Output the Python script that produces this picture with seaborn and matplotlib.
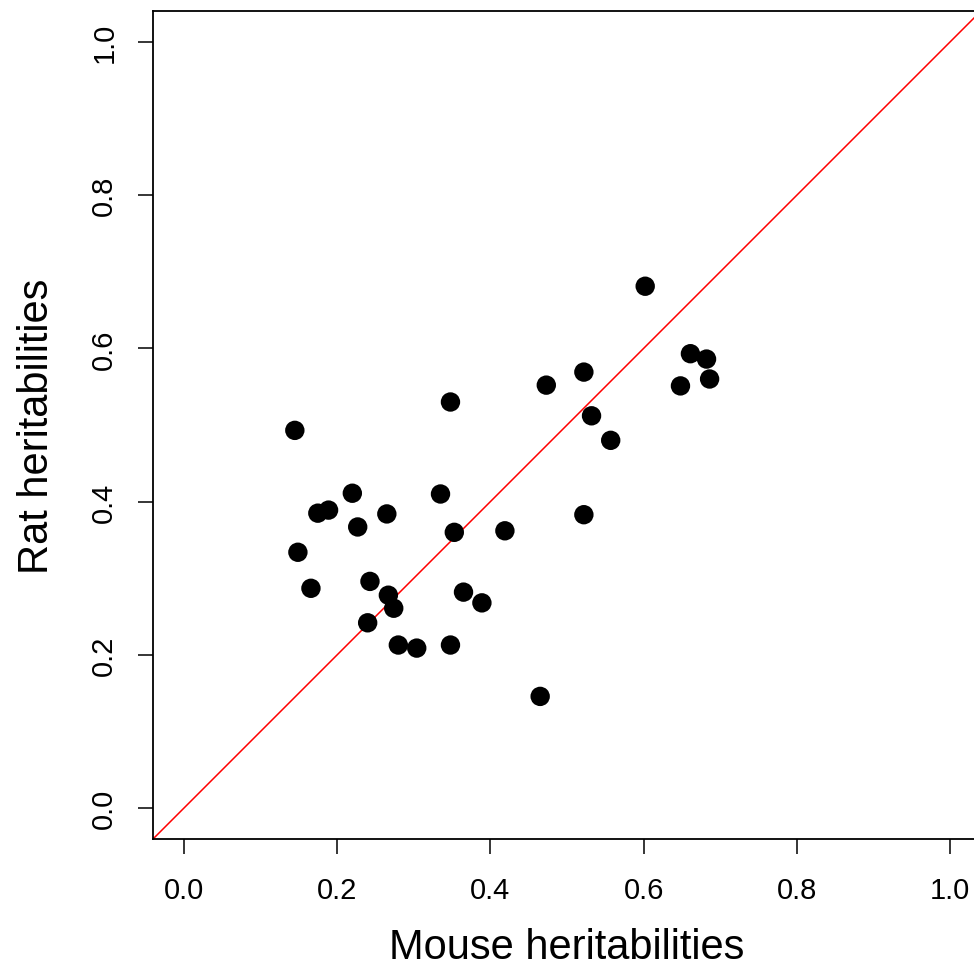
import matplotlib
matplotlib.use("Agg")
import matplotlib.pyplot as plt
import seaborn as sns
import numpy as np
import pandas as pd

mouse_h2 = [0.145, 0.149, 0.166, 0.175, 0.189, 0.220, 0.227, 0.243, 0.240, 0.265,
            0.267, 0.274, 0.280, 0.304, 0.335, 0.348, 0.353, 0.348, 0.365, 0.389,
            0.419, 0.465, 0.473, 0.522, 0.522, 0.532, 0.557, 0.602, 0.648, 0.661,
            0.682, 0.686]
rat_h2 = [0.493, 0.334, 0.287, 0.385, 0.389, 0.411, 0.367, 0.296, 0.242, 0.384,
          0.278, 0.261, 0.213, 0.209, 0.410, 0.530, 0.360, 0.213, 0.282, 0.268,
          0.362, 0.146, 0.552, 0.569, 0.383, 0.512, 0.480, 0.681, 0.551, 0.593,
          0.586, 0.560]
tick_vals = [0.0, 0.2, 0.4, 0.6, 0.8, 1.0]
tick_labels = ["0.0", "0.2", "0.4", "0.6", "0.8", "1.0"]

df = pd.DataFrame({"mouse": mouse_h2, "rat": rat_h2})

sns.set_style("ticks")
plt.rcParams["font.family"] = ["Liberation Sans", "DejaVu Sans"]
plt.rcParams["text.color"] = "black"
plt.rcParams["axes.labelcolor"] = "black"
plt.rcParams["xtick.color"] = "black"
plt.rcParams["ytick.color"] = "black"

W, H = 974, 970
fig = plt.figure(figsize=(W / 100, H / 100), dpi=100)
ax = fig.add_axes([153 / W, 130 / H, 828 / W, 828 / H])

sns.scatterplot(data=df, x="mouse", y="rat", ax=ax, color="black",
                s=195, edgecolor="none", zorder=3)
ax.axline((0, 0), slope=1, color="red", lw=1.1, zorder=2)

ax.set_xlim(-0.04, 1.04)
ax.set_ylim(-0.04, 1.04)
ax.set_xticks(tick_vals)
ax.set_xticklabels(tick_labels)
ax.set_yticks(tick_vals)
ax.set_yticklabels(tick_labels, rotation=90, va="center")
ax.tick_params(axis="both", direction="out", length=11, width=1.1,
               labelsize=21, color="black", labelcolor="black",
               bottom=True, left=True)
ax.tick_params(axis="x", pad=16)
ax.tick_params(axis="y", pad=14)
for sp in ax.spines.values():
    sp.set_visible(True)
    sp.set_linewidth(1.3)
    sp.set_color("black")
ax.set_xlabel("Mouse heritabilities", fontsize=30, labelpad=16, color="black")
ax.set_ylabel("Rat heritabilities", fontsize=30, labelpad=24, color="black")

fig.savefig("out.png", dpi=100, facecolor="white")
